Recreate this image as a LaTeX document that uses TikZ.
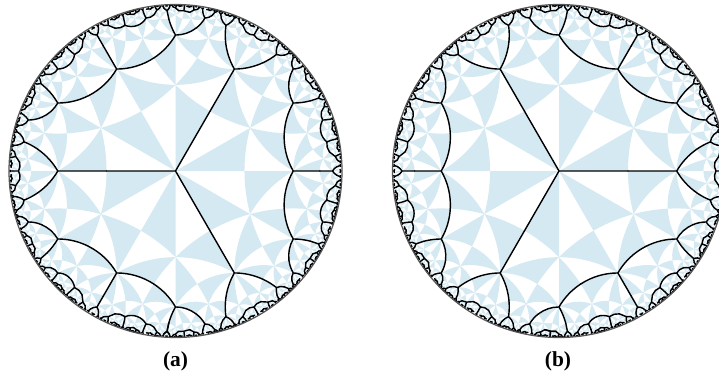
\documentclass[tikz,border=0pt]{standalone}
\usepackage{fontspec}
\setmainfont{Liberation Serif}
\usepackage{tikz}
\definecolor{tileblue}{RGB}{212,233,242}
\definecolor{rimgray}{RGB}{85,85,85}

% (2,4,6) triangle tiling of the Poincare disk, built once as hexagonal cells
\def\hsq{1.41421}
\def\hexrmax{0.985}  % cells are grown only inside this radius
\def\hexrcurve{0.95} % outside it cells get straight sides
\newcount\qhead \newcount\qtail \newcount\hexn
\newif\ifhexcurved

% image of (#1,#2) under the cell map (a=\ha+i\hb, c=\hc+i\hd)
\newcommand\hexmap[2]{%
  \pgfmathsetmacro\hma{(\ha)*(#1)-(\hb)*(#2)+(\hc)}%
  \pgfmathsetmacro\hmb{(\ha)*(#2)+(\hb)*(#1)+(\hd)}%
  \pgfmathsetmacro\hmc{(\hc)*(#1)+(\hd)*(#2)+(\ha)}%
  \pgfmathsetmacro\hmd{(\hc)*(#2)-(\hd)*(#1)-(\hb)}%
  \pgfmathsetmacro\hme{(\hmc)*(\hmc)+(\hmd)*(\hmd)}%
  \pgfmathsetmacro\px{((\hma)*(\hmc)+(\hmb)*(\hmd))/(\hme)}%
  \pgfmathsetmacro\py{((\hmb)*(\hmc)-(\hma)*(\hmd))/(\hme)}}

% geodesic from (#1,#2) to (#3,#4) as a curve segment
\newcommand\geocurve[4]{%
  \ifhexcurved
    \pgfmathsetmacro\gur{1-(#1)*(#3)-(#2)*(#4)}%
    \pgfmathsetmacro\gui{(#2)*(#3)-(#1)*(#4)}%
    \pgfmathsetmacro\guk{2/(3*(veclen(\gur,\gui)+(\gur)))}%
    \pgfmathsetmacro\gdx{(#3)-(#1)}%
    \pgfmathsetmacro\gdy{(#4)-(#2)}%
    \pgfmathsetmacro\gax{(#1)+(\guk)*((\gdx)*(\gur)+(\gdy)*(\gui))}%
    \pgfmathsetmacro\gay{(#2)+(\guk)*((\gdy)*(\gur)-(\gdx)*(\gui))}%
    \pgfmathsetmacro\gbx{(#3)-(\guk)*((\gdx)*(\gur)-(\gdy)*(\gui))}%
    \pgfmathsetmacro\gby{(#4)-(\guk)*((\gdy)*(\gur)+(\gdx)*(\gui))}%
    \edef\geoc{.. controls (\gax,\gay) and (\gbx,\gby) .. (#3,#4)}%
  \else
    \edef\geoc{-- (#3,#4)}%
  \fi}

% neighbour cell across edge #1 (half turn about its midpoint)
\newcommand\hexchild[1]{%
  \pgfmathsetmacro\hec{cos(60*#1)}%
  \pgfmathsetmacro\hes{sin(60*#1)}%
  \pgfmathsetmacro\hSa{\hsq*(\ha)+(\hec)*(\hc)+(\hes)*(\hd)}%
  \pgfmathsetmacro\hSb{\hsq*(\hb)+(\hec)*(\hd)-(\hes)*(\hc)}%
  \pgfmathsetmacro\hTa{(\hec)*(\ha)-(\hes)*(\hb)+\hsq*(\hc)}%
  \pgfmathsetmacro\hTb{(\hec)*(\hb)+(\hes)*(\ha)+\hsq*(\hd)}%
  \let\hnA\hSb
  \pgfmathsetmacro\hnB{-(\hSa)}%
  \pgfmathsetmacro\hnC{-(\hTb)}%
  \let\hnD\hTa
  \pgfmathsetmacro\hnn{(\hnA)*(\hnA)+(\hnB)*(\hnB)}%
  \pgfmathsetmacro\hcx{((\hnC)*(\hnA)-(\hnD)*(\hnB))/(\hnn)}%
  \pgfmathsetmacro\hcy{((\hnC)*(\hnB)+(\hnD)*(\hnA))/(\hnn)}%
  \pgfmathtruncatemacro\hkx{round(1000*(\hcx))}%
  \pgfmathtruncatemacro\hky{round(1000*(\hcy))}%
  \ifcsname hexseen@\hkx/\hky\endcsname\else
    \expandafter\gdef\csname hexseen@\hkx/\hky\endcsname{}%
    \global\advance\qtail 1
    \expandafter\xdef\csname hexq@\the\qtail\endcsname{{\hnA}{\hnB}{\hnC}{\hnD}{#1}{\hcx}{\hcy}}%
  \fi}

% one cell: 6 blue triangles, two sets of half edges, then its neighbours
\newcommand\hexprocess[7]{%
  \def\ha{#1}\def\hb{#2}\def\hc{#3}\def\hd{#4}%
  \global\advance\hexn 1
  \pgfmathsetmacro\hr{veclen(#6,#7)}%
  \ifdim\hr pt<\hexrcurve pt\relax\hexcurvedtrue\else\hexcurvedfalse\fi
  \def\pOx{#6}\def\pOy{#7}%
  \foreach \j/\bx/\by/\qx/\qy in {0/0.41421/0/0.44829/0.25882,
      1/0.20711/0.35872/0/0.51764, 2/-0.20711/0.35872/-0.44829/0.25882,
      3/-0.41421/0/-0.44829/-0.25882, 4/-0.20711/-0.35872/0/-0.51764,
      5/0.20711/-0.35872/0.44829/-0.25882}{%
    \hexmap{\bx}{\by}%
    \expandafter\xdef\csname pBx\j\endcsname{\px}%
    \expandafter\xdef\csname pBy\j\endcsname{\py}%
    \hexmap{\qx}{\qy}%
    \expandafter\xdef\csname pQx\j\endcsname{\px}%
    \expandafter\xdef\csname pQy\j\endcsname{\py}}%
  \gdef\hexbluetmp{}%
  \foreach \j in {0,...,5}{%
    \edef\bx{\csname pBx\j\endcsname}\edef\by{\csname pBy\j\endcsname}%
    \edef\qx{\csname pQx\j\endcsname}\edef\qy{\csname pQy\j\endcsname}%
    \geocurve{\pOx}{\pOy}{\bx}{\by}%
    \expandafter\xdef\csname gOB\j\endcsname{\geoc}%
    \xdef\hexbluetmp{\hexbluetmp (\pOx,\pOy) \geoc}%
    \geocurve{\bx}{\by}{\qx}{\qy}%
    \xdef\hexbluetmp{\hexbluetmp \geoc}%
    \geocurve{\qx}{\qy}{\pOx}{\pOy}%
    \xdef\hexbluetmp{\hexbluetmp \geoc}}%
  \expandafter\global\expandafter\let\csname hexblue@\the\hexn\endcsname\hexbluetmp
  \expandafter\xdef\csname hexA@\the\hexn\endcsname{(\pOx,\pOy) \csname gOB1\endcsname
    (\pOx,\pOy) \csname gOB3\endcsname (\pOx,\pOy) \csname gOB5\endcsname}%
  \expandafter\xdef\csname hexB@\the\hexn\endcsname{(\pOx,\pOy) \csname gOB0\endcsname
    (\pOx,\pOy) \csname gOB2\endcsname (\pOx,\pOy) \csname gOB4\endcsname}%
  \ifdim\hr pt<\hexrmax pt\relax
    \foreach \k in {0,...,5}{\ifnum\k=#5\relax\else\hexchild{\k}\fi}%
  \fi}

% breadth-first growth from the central cell
\global\qhead=0 \global\qtail=1
\expandafter\gdef\csname hexq@1\endcsname{{1}{0}{0}{0}{9}{0}{0}}
\expandafter\gdef\csname hexseen@0/0\endcsname{}
\loop\ifnum\qhead<\qtail
  \global\advance\qhead 1
  \expandafter\expandafter\expandafter\hexprocess\csname hexq@\the\qhead\endcsname
\repeat
\edef\nhex{\the\hexn}

\begin{document}
\begin{tikzpicture}[x=0.02cm, y=-0.02cm,
  tile/.style={fill=tileblue},
  cell/.style={line width=0.8pt, black, line join=round, line cap=round},
  rim/.style={line width=0.7pt, rimgray},
  tag/.style={font=\bfseries\fontsize{12.2}{14}\selectfont},
]
\useasboundingbox (0,0) rectangle (719,376);

% Left disk
\begin{scope}[shift={(175.5,171)}, scale=166.5, yscale=-1]
  \begin{scope}
    \clip (0,0) circle (1);
    \foreach \i in {1,...,\nhex}{%
      \expandafter\let\expandafter\hexpath\csname hexblue@\i\endcsname
      \fill[tile] \hexpath;}
    \foreach \i in {1,...,\nhex}{%
      \expandafter\let\expandafter\hexpath\csname hexA@\i\endcsname
      \draw[cell] \hexpath;}
  \end{scope}
  \draw[rim] (0,0) circle (1);
\end{scope}

% Right disk
\begin{scope}[shift={(559,171)}, scale=166.5, yscale=-1]
  \begin{scope}
    \clip (0,0) circle (1);
    \foreach \i in {1,...,\nhex}{%
      \expandafter\let\expandafter\hexpath\csname hexblue@\i\endcsname
      \fill[tile] \hexpath;}
    \foreach \i in {1,...,\nhex}{%
      \expandafter\let\expandafter\hexpath\csname hexB@\i\endcsname
      \draw[cell] \hexpath;}
  \end{scope}
  \draw[rim] (0,0) circle (1);
\end{scope}

% Labels
\node[tag] (laba) at (175.5,361) {(a)};
\node[tag] (labb) at (558,361) {(b)};
\end{tikzpicture}
\end{document}
